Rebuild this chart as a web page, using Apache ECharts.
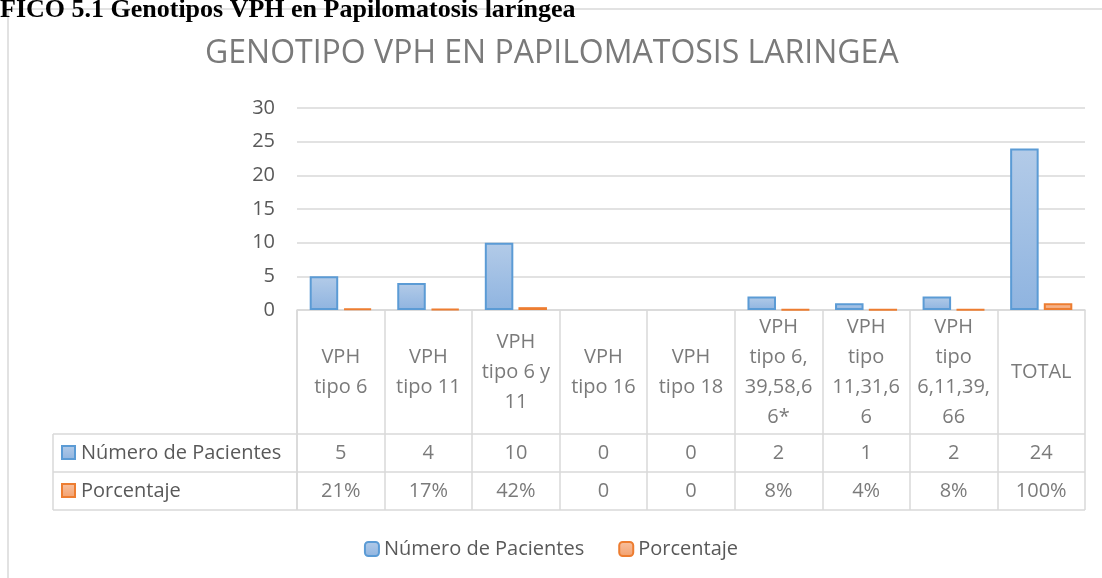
<!DOCTYPE html>
<html>
<head>
<meta charset="utf-8">
<script src="https://cdn.jsdelivr.net/npm/echarts@6/dist/echarts.min.js"></script>
<style>
  html, body { margin: 0; padding: 0; background: #fff; }
  #main { width: 1102px; height: 578px; }
</style>
</head>
<body>
<div id="main"></div>
<script>
// datos
const categories = ['VPH tipo 6', 'VPH tipo 11', 'VPH tipo 6 y 11', 'VPH tipo 16', 'VPH tipo 18',
  'VPH tipo 6, 39,58,66*', 'VPH tipo 11,31,66', 'VPH tipo 6,11,39,66', 'TOTAL']
const headerLabels = ['VPH\ntipo 6', 'VPH\ntipo 11', 'VPH\ntipo 6 y\n11', 'VPH\ntipo 16', 'VPH\ntipo 18',
  'VPH\ntipo 6,\n39,58,6\n6*', 'VPH\ntipo\n11,31,6\n6', 'VPH\ntipo\n6,11,39,\n66', 'TOTAL']
const pacientes = [5, 4, 10, 0, 0, 2, 1, 2, 24]
const porcentaje = [0.21, 0.17, 0.42, 0, 0, 0.08, 0.04, 0.08, 1]
const seriesNames = ['Número de Pacientes', 'Porcentaje']

const txt = '#595959'
const line = '#d9d9d9'
const font = 'Open Sans'
const fs = 20

// layout
const plotL = 297, plotR = 1085, plotT = 108, plotB = 310
const tableB = 510, row1 = 434, row2 = 472, keyL = 53

const blueFill = new echarts.graphic.LinearGradient(0, 0, 0, 1, [
  { offset: 0, color: '#b3cbe8' }, { offset: 1, color: '#8fb4e0' }])
const orangeFill = new echarts.graphic.LinearGradient(0, 0, 0, 1, [
  { offset: 0, color: '#f8c2a1' }, { offset: 1, color: '#f3a06d' }])

const fmtPct = v => v === 0 ? '0' : Math.round(v * 100) + '%'
const noZero = v => v === 0 ? null : v

const chart = echarts.init(document.getElementById('main'))

const gl = (x1, y1, x2, y2) => ({
  type: 'line', shape: { x1, y1, x2, y2 }, style: { stroke: line, lineWidth: 1.5 }, silent: true
})

chart.setOption({
  animation: false,
  legend: {
    top: 534, left: 'center',
    itemWidth: 14, itemHeight: 14, itemGap: 34,
    textStyle: { fontFamily: font, fontSize: fs, color: txt },
    data: seriesNames
  },
  grid: [
    { left: plotL, right: 1102 - plotR, top: plotT, height: plotB - plotT },
    { left: plotL, right: 1102 - plotR, top: plotB, height: tableB - plotB }
  ],
  xAxis: [
    {
      type: 'category', gridIndex: 0, data: categories,
      axisLine: { lineStyle: { color: line, width: 1.5 } },
      axisTick: { show: false }, axisLabel: { show: false }
    },
    {
      type: 'category', gridIndex: 1, data: categories,
      axisLine: { show: false }, axisTick: { show: false }, axisLabel: { show: false },
      splitLine: { show: true, interval: 0, lineStyle: { color: line, width: 1.5 } }
    }
  ],
  yAxis: [
    {
      type: 'value', gridIndex: 0, min: 0, max: 30, interval: 5,
      axisLine: { show: false }, axisTick: { show: false },
      axisLabel: { margin: 22, fontFamily: font, fontSize: fs, color: txt },
      splitLine: { lineStyle: { color: line, width: 1.5 } }
    },
    {
      type: 'value', gridIndex: 1, min: 0, max: tableB - plotB, inverse: true, show: false
    }
  ],
  series: [
    {
      name: seriesNames[0], type: 'bar', xAxisIndex: 0, yAxisIndex: 0,
      data: pacientes.map(noZero), barCategoryGap: '29%', barGap: '18%',
      itemStyle: { color: blueFill, borderColor: '#5b9bd5', borderWidth: 2 }
    },
    {
      name: seriesNames[1], type: 'bar', xAxisIndex: 0, yAxisIndex: 0,
      data: porcentaje.map(noZero),
      itemStyle: { color: orangeFill, borderColor: '#ed7d31', borderWidth: 2 }
    },
    // texto de la tabla de datos
    {
      type: 'scatter', xAxisIndex: 1, yAxisIndex: 1, symbolSize: 0, silent: true,
      data: headerLabels.map((t, i) => [i, (row1 - plotB) / 2]),
      label: {
        show: true, position: 'inside', lineHeight: 30,
        fontFamily: font, fontSize: fs, color: txt,
        formatter: p => headerLabels[p.dataIndex]
      }
    },
    {
      type: 'scatter', xAxisIndex: 1, yAxisIndex: 1, symbolSize: 0, silent: true,
      data: pacientes.map((v, i) => [i, (row1 + row2) / 2 - plotB]),
      label: {
        show: true, position: 'inside', fontFamily: font, fontSize: fs, color: txt,
        formatter: p => String(pacientes[p.dataIndex])
      }
    },
    {
      type: 'scatter', xAxisIndex: 1, yAxisIndex: 1, symbolSize: 0, silent: true,
      data: porcentaje.map((v, i) => [i, (row2 + tableB) / 2 - plotB]),
      label: {
        show: true, position: 'inside', fontFamily: font, fontSize: fs, color: txt,
        formatter: p => fmtPct(porcentaje[p.dataIndex])
      }
    }
  ],
  graphic: [
    gl(8, 9, 1102, 9),
    gl(8, 9, 8, 578),
    {
      type: 'text', x: 0, y: 10, z: 10,
      style: {
        text: 'FICO 5.1 Genotipos VPH en Papilomatosis laríngea',
        font: 'bold 26px "Liberation Serif"', fill: '#000', textVerticalAlign: 'middle'
      }
    },
    {
      type: 'text', x: 205, y: 54,
      style: {
        text: 'GENOTIPO VPH EN PAPILOMATOSIS LARINGEA',
        font: '32px "Open Sans"', fill: '#7a7a7a', textVerticalAlign: 'middle'
      }
    },
    gl(keyL, row1, plotR, row1),
    gl(keyL, row2, plotR, row2),
    gl(keyL, tableB, plotR, tableB),
    gl(keyL, row1, keyL, tableB),
    gl(plotL, plotB, plotL, tableB),
    // claves de la tabla
    { type: 'rect', shape: { x: 62, y: (row1 + row2) / 2 - 7, width: 13, height: 13 }, style: { fill: blueFill, stroke: '#5b9bd5', lineWidth: 2 } },
    { type: 'rect', shape: { x: 62, y: (row2 + tableB) / 2 - 7, width: 13, height: 13 }, style: { fill: orangeFill, stroke: '#ed7d31', lineWidth: 2 } },
    {
      type: 'text', x: 81, y: (row1 + row2) / 2,
      style: { text: seriesNames[0], font: fs + 'px "Open Sans"', fill: txt, textVerticalAlign: 'middle' }
    },
    {
      type: 'text', x: 81, y: (row2 + tableB) / 2,
      style: { text: seriesNames[1], font: fs + 'px "Open Sans"', fill: txt, textVerticalAlign: 'middle' }
    }
  ]
})
</script>
</body>
</html>
